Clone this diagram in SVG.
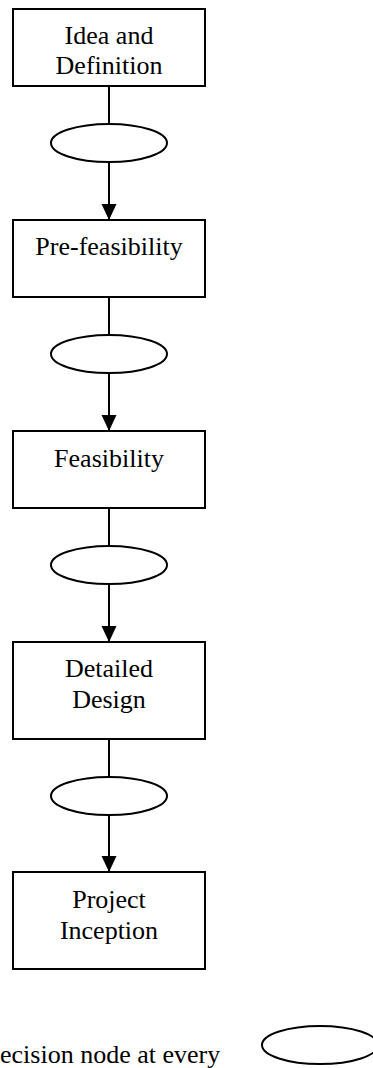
<svg xmlns="http://www.w3.org/2000/svg" width="373" height="1068" viewBox="0 0 373 1068">
<style>
.box{fill:#fff;stroke:#000;stroke-width:2}
.dec{fill:#fff;stroke:#000;stroke-width:2}
.lbl{font-family:"Liberation Serif","Times New Roman",serif;font-size:26px;fill:#000;text-anchor:middle}
.ln{stroke:#000;stroke-width:2;fill:none}
</style>
<defs>
<marker id="ah" markerUnits="userSpaceOnUse" markerWidth="16" markerHeight="16" viewBox="0 0 16 16" refX="16" refY="8" orient="auto">
<path d="M0,0.5 L16,8 L0,15.5 Z" fill="#000"/>
</marker>
</defs>
<g id="connectors">
<line class="ln" x1="109" y1="86" x2="109" y2="124"/>
<line class="ln" x1="109" y1="162" x2="109" y2="220" marker-end="url(#ah)"/>
<line class="ln" x1="109" y1="297" x2="109" y2="335"/>
<line class="ln" x1="109" y1="373" x2="109" y2="431" marker-end="url(#ah)"/>
<line class="ln" x1="109" y1="508" x2="109" y2="546"/>
<line class="ln" x1="109" y1="584" x2="109" y2="642" marker-end="url(#ah)"/>
<line class="ln" x1="109" y1="739" x2="109" y2="777"/>
<line class="ln" x1="109" y1="815" x2="109" y2="872" marker-end="url(#ah)"/>
</g>
<g id="n1"><rect class="box" x="13" y="9" width="192" height="77"/><text class="lbl" x="109" y="44">Idea and</text><text class="lbl" x="109" y="74">Definition</text></g>
<g id="d1"><ellipse class="dec" cx="109" cy="143" rx="58" ry="19"/></g>
<g id="n2"><rect class="box" x="13" y="220" width="192" height="77"/><text class="lbl" x="109" y="255">Pre-feasibility</text></g>
<g id="d2"><ellipse class="dec" cx="109" cy="354" rx="58" ry="19"/></g>
<g id="n3"><rect class="box" x="13" y="431" width="192" height="77"/><text class="lbl" x="109" y="467">Feasibility</text></g>
<g id="d3"><ellipse class="dec" cx="109" cy="565" rx="58" ry="19"/></g>
<g id="n4"><rect class="box" x="13" y="642" width="192" height="97"/><text class="lbl" x="109" y="677">Detailed</text><text class="lbl" x="109" y="708">Design</text></g>
<g id="d4"><ellipse class="dec" cx="109" cy="796" rx="58" ry="19"/></g>
<g id="n5"><rect class="box" x="13" y="872" width="192" height="97"/><text class="lbl" x="109" y="908">Project</text><text class="lbl" x="109" y="939">Inception</text></g>
<g id="legend">
<text x="0" y="1063" font-family="'Liberation Serif','Times New Roman',serif" font-size="26" fill="#000">ecision node at every</text>
<ellipse class="dec" cx="320" cy="1045" rx="58" ry="19"/>
</g>
</svg>
